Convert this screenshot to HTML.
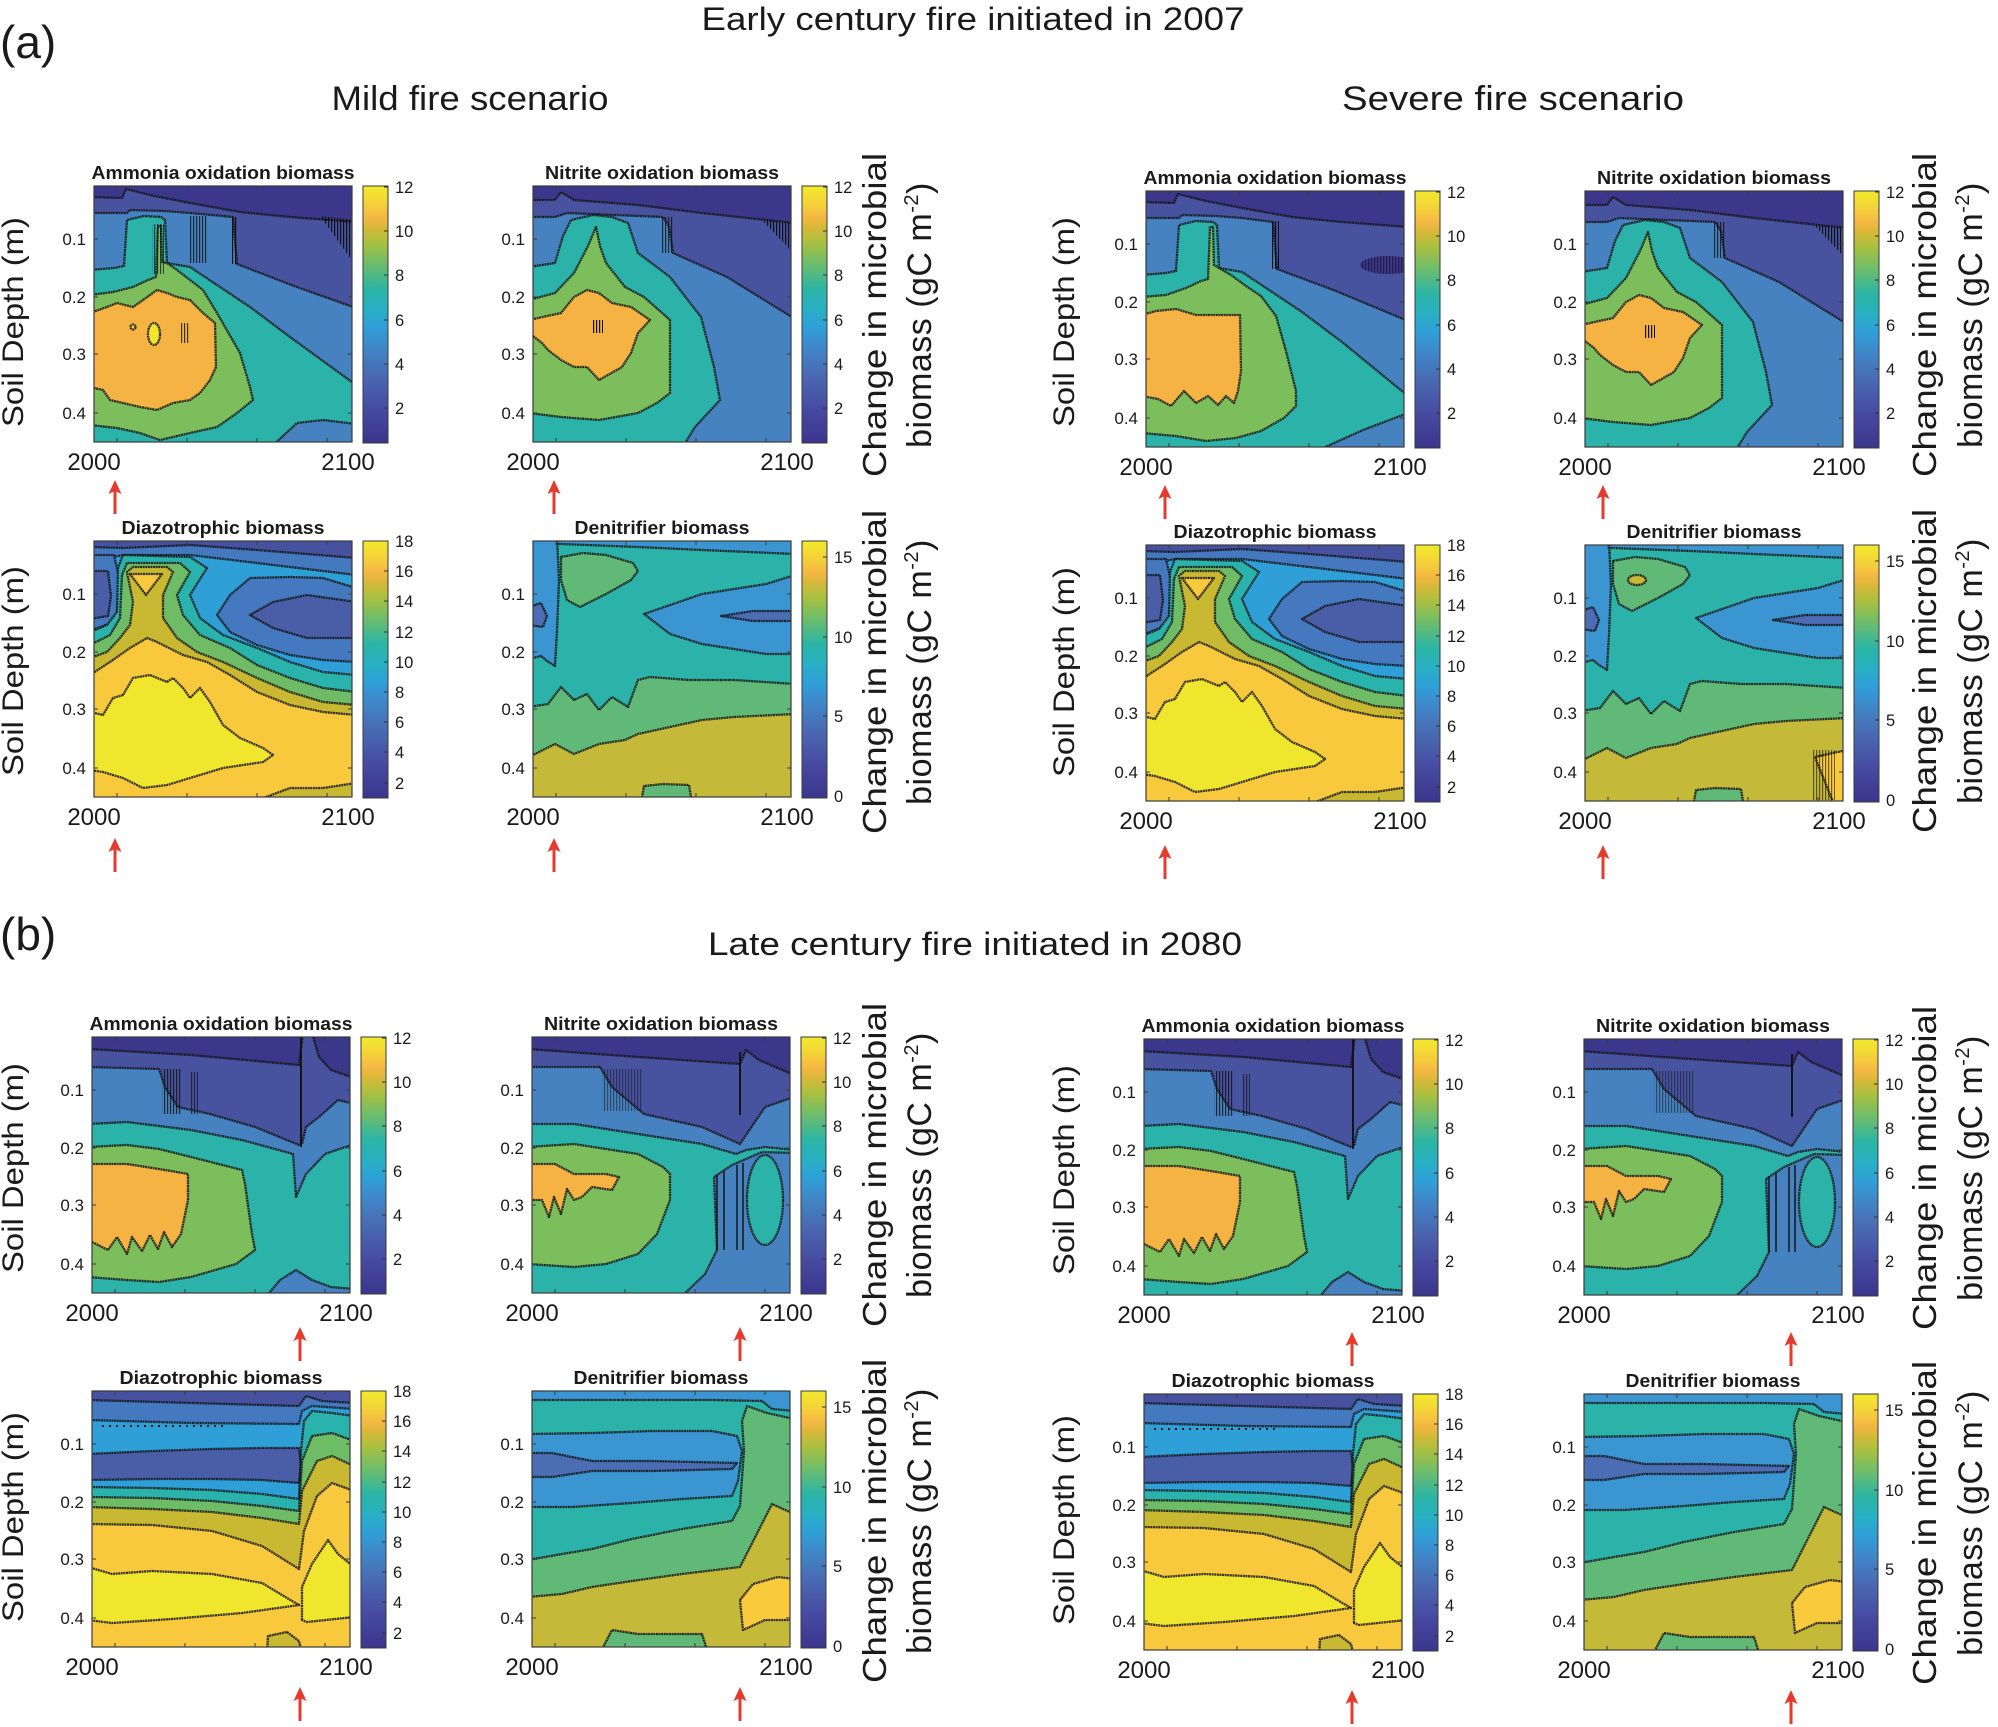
<!DOCTYPE html>
<html><head><meta charset="utf-8"><style>
html,body{margin:0;padding:0;background:#fff}
svg{display:block}
text{font-family:"Liberation Sans",Arial,sans-serif;fill:#1a1a1a}
.r{stroke:#141414;stroke-width:2.3;stroke-linejoin:round;stroke-opacity:.85;stroke-dasharray:2 .6}
</style></head><body>
<svg width="1998" height="1727" viewBox="0 0 1998 1727" xmlns="http://www.w3.org/2000/svg">
<defs>
<linearGradient id="par" x1="0" y1="1" x2="0" y2="0">
<stop offset="0" stop-color="#3a358c"/><stop offset="0.12" stop-color="#4648a0"/><stop offset="0.25" stop-color="#4a66b0"/><stop offset="0.36" stop-color="#4184c6"/><stop offset="0.45" stop-color="#2f9fd8"/><stop offset="0.52" stop-color="#28b0c4"/><stop offset="0.6" stop-color="#2bb5a4"/><stop offset="0.7" stop-color="#6fbd6a"/><stop offset="0.78" stop-color="#a8c040"/><stop offset="0.84" stop-color="#d8b838"/><stop offset="0.88" stop-color="#f6b843"/><stop offset="0.94" stop-color="#f4d538"/><stop offset="1" stop-color="#f2ea2b"/>
</linearGradient>
<pattern id="hv" patternUnits="userSpaceOnUse" width="3" height="6"><rect width="1.2" height="6" fill="#111"/></pattern>
<clipPath id="clip"><rect x="0" y="0" width="258" height="256"/></clipPath>

<g id="axes">
<rect x="0" y="0" width="258" height="256" fill="none" stroke="#3a3a3a" stroke-width="1.2"/>
<path d="M0,53h4M0,111h4M0,168h4M0,227h4M258,53h-4M258,111h-4M258,168h-4M258,227h-4M23,256v-4M93,256v-4M163,256v-4M233,256v-4M23,0v4M93,0v4M163,0v4M233,0v4" stroke="#3a3a3a" stroke-width="1"/>
<g font-size="17" text-anchor="end"><text x="-8" y="59">0.1</text><text x="-8" y="117">0.2</text><text x="-8" y="174">0.3</text><text x="-8" y="233">0.4</text></g>
<g font-size="24" text-anchor="middle"><text x="0" y="284">2000</text><text x="254" y="284">2100</text></g>
</g>

<g id="cb12">
<rect x="269" y="0" width="25" height="257" fill="url(#par)" stroke="#3a3a3a" stroke-width="1"/>
<path d="M294,1h-4M294,45h-4M294,89h-4M294,134h-4M294,178h-4M294,222h-4" stroke="#333"/>
<g font-size="16.5"><text x="301" y="7">12</text><text x="301" y="51">10</text><text x="301" y="95">8</text><text x="301" y="140">6</text><text x="301" y="184">4</text><text x="301" y="228">2</text></g>
</g>
<g id="cb18">
<rect x="269" y="0" width="25" height="257" fill="url(#par)" stroke="#3a3a3a" stroke-width="1"/>
<path d="M294,30h-4M294,60h-4M294,91h-4M294,121h-4M294,151h-4M294,181h-4M294,211h-4M294,242h-4" stroke="#333"/>
<g font-size="16.5"><text x="301" y="6">18</text><text x="301" y="36">16</text><text x="301" y="66">14</text><text x="301" y="97">12</text><text x="301" y="127">10</text><text x="301" y="157">8</text><text x="301" y="187">6</text><text x="301" y="217">4</text><text x="301" y="248">2</text></g>
</g>
<g id="cb15">
<rect x="269" y="0" width="25" height="257" fill="url(#par)" stroke="#3a3a3a" stroke-width="1"/>
<path d="M294,16h-4M294,96h-4M294,175h-4" stroke="#333"/>
<g font-size="16.5"><text x="301" y="22">15</text><text x="301" y="102">10</text><text x="301" y="181">5</text><text x="301" y="261">0</text></g>
</g>

<g id="ar"><line x1="0" y1="10" x2="0" y2="34" stroke="#e63a2e" stroke-width="3"/><polygon points="0,0 -6.5,14 0,11 6.5,14" fill="#e63a2e"/></g>

<!-- Ammonia mild (a) -->
<g id="pA1">
<rect x="-4" y="-4" width="266" height="266" fill="#3b378b"/>
<polygon class="r" fill="#4853a0" points="-4,11 28,12 32,3 60,10 96,17 146,26 196,31 262,36 262,262 -4,262"/>
<polygon fill="url(#hv)" points="226,30 262,34 262,80"/>
<polygon class="r" fill="#4682bf" points="-4,27 33,27 36,24 70,25 96,27 139,31 143,78 200,100 262,122 262,262 -4,262"/>
<rect x="96" y="30" width="17" height="47" fill="url(#hv)" opacity=".8"/>
<rect x="137" y="31" width="6" height="47" fill="url(#hv)"/>
<polygon class="r" fill="#2bb3a9" points="-4,84 20,82 30,80 33,34 50,30 67,31 71,34 73,77 96,81 156,121 196,151 262,199 262,238 229,234 203,237 176,262 -4,262"/>
<polygon class="r" fill="#7cbe5b" points="-4,109 19,106 39,101 54,94 62,91 64,40 67,40 68,76 73,77 83,84 96,94 109,104 123,127 146,167 156,201 159,214 143,227 123,241 96,247 66,254 46,247 23,242 -4,239"/>
<rect x="58" y="38" width="12" height="50" fill="url(#hv)" opacity=".7"/>
<polygon class="r" fill="#f4b342" points="-4,127 13,121 23,117 39,121 49,114 63,104 73,107 83,111 96,114 109,127 121,137 122,181 116,194 106,207 96,214 79,217 63,224 46,221 29,217 16,214 9,204 -4,201"/>
<ellipse class="r" cx="60" cy="148" rx="6" ry="11" fill="#f2e52e"/>
<circle cx="39" cy="141" r="2.5" fill="#f2e52e" class="r"/>
<rect x="86" y="137" width="10" height="20" fill="url(#hv)" opacity=".8"/>
</g>

<!-- Ammonia severe (a) -->
<g id="pA1s">
<rect x="-4" y="-4" width="266" height="266" fill="#3b378b"/>
<polygon class="r" fill="#4853a0" points="-4,11 28,12 32,3 60,10 96,17 146,26 196,31 262,36 262,262 -4,262"/>
<polygon class="r" fill="#4682bf" points="-4,27 33,27 36,24 70,25 96,27 127,31 131,78 190,100 262,130 262,262 -4,262"/>
<rect x="125" y="30" width="8" height="48" fill="url(#hv)"/>
<ellipse cx="242" cy="74" rx="28" ry="9" fill="#3b378b"/>
<ellipse cx="242" cy="74" rx="28" ry="9" fill="url(#hv)" opacity=".6"/>
<polygon class="r" fill="#2bb3a9" points="-4,84 20,82 30,80 33,34 50,30 67,31 71,34 73,77 96,81 156,121 196,151 262,205 262,222 217,239 166,262 -4,262"/>
<polygon class="r" fill="#7cbe5b" points="-4,106 20,104 40,97 55,90 62,88 64,36 67,36 68,74 73,77 85,84 100,95 115,105 130,125 140,160 150,200 150,215 138,227 115,240 90,247 60,250 30,245 -4,242"/>
<polygon class="r" fill="#f4b342" points="-4,124 10,120 30,118 50,124 70,124 94,124 95,180 92,200 88,212 80,205 72,214 62,205 50,212 38,200 25,215 12,208 -4,205"/>
</g>

<!-- Nitrite mild (a) -->
<g id="pA2">
<rect x="-4" y="-4" width="266" height="266" fill="#3b378b"/>
<polygon class="r" fill="#4853a0" points="-4,14 22,14 28,6 41,14 105,19 169,27 233,34 262,37 262,262 -4,262"/>
<polygon fill="url(#hv)" points="229,34 262,37 262,69"/>
<polygon class="r" fill="#4682bf" points="-4,31 22,31 34,27 130,31 136,40 140,67 194,91 262,133 262,262 -4,262"/>
<rect x="128" y="31" width="12" height="36" fill="url(#hv)" opacity=".8"/>
<polygon class="r" fill="#2bb3a9" points="-4,81 22,77 30,50 38,34 60,29 79,31 95,37 105,67 137,91 168,131 181,181 187,214 162,241 149,262 -4,262"/>
<polygon class="r" fill="#7cbe5b" points="-4,114 22,107 41,87 55,60 63,41 67,60 73,77 92,101 111,111 137,134 137,207 124,217 105,227 66,234 28,231 -4,227"/>
<polygon class="r" fill="#f4b342" points="-4,134 28,127 41,111 54,104 66,107 79,117 98,121 117,134 105,147 98,167 89,181 66,194 54,181 41,181 28,174 15,164 9,157 -4,147"/>
<rect x="60" y="134" width="10" height="13" fill="url(#hv)"/>
</g>

<!-- Diazotrophic mild (a) -->
<g id="pA3">
<rect x="-4" y="-4" width="266" height="266" fill="#4652a0"/>
<polygon class="r" fill="#4479bf" points="-4,6 29,7 96,4 163,9 262,17 262,262 -4,262"/>
<polygon class="r" fill="#2f9fd7" points="-4,20 30,14 96,14 163,22 229,30 262,34 262,262 -4,262"/>
<polygon class="r" fill="#4479bf" points="262,47 229,37 196,36 156,37 136,54 123,74 136,91 163,104 196,114 229,119 262,121"/>
<polygon class="r" fill="#4a5ea8" points="262,61 213,54 179,61 156,74 179,87 213,97 262,97"/>
<polygon class="r" fill="#4479bf" points="-4,14 20,14 26,40 22,80 -4,90"/>
<polygon class="r" fill="#4a5ea8" points="-4,30 14,30 17,55 14,75 -4,78"/>
<polygon class="r" fill="#2ab3ac" points="-4,91 13,84 23,71 24,27 29,14 96,16 113,27 96,54 106,77 129,94 163,107 196,121 229,131 262,134 262,262 -4,262"/>
<polygon class="r" fill="#6fbc66" points="-4,104 16,94 26,77 28,34 33,22 86,22 96,31 83,54 89,74 106,94 136,107 163,124 196,137 229,147 262,151 262,262 -4,262"/>
<polygon class="r" fill="#c8b832" points="-4,117 13,111 26,97 36,84 39,61 33,31 39,26 73,26 79,31 69,54 69,77 83,97 103,111 129,121 163,137 196,151 229,161 262,164 262,262 -4,262"/>
<polygon class="r" fill="#f8c83d" points="-4,134 16,121 36,107 53,97 63,101 89,114 113,121 136,134 163,151 196,164 229,171 262,174 262,242 229,247 196,247 156,262 -4,262"/>
<polygon class="r" fill="#f8c83d" points="36,33 68,33 52,54"/>
<polygon class="r" fill="#f1e62e" points="-4,171 9,174 19,157 29,154 39,137 56,134 73,141 79,137 89,147 96,157 106,147 116,161 129,184 146,197 169,207 179,214 169,221 129,227 96,237 73,244 49,247 29,237 9,231 -4,229"/>
</g>

<!-- Denitrifier mild (a) -->
<g id="pA4">
<rect x="-4" y="-4" width="266" height="266" fill="#2cb3a9"/>
<polygon class="r" fill="#3a95d0" points="-4,-4 262,-4 262,13 169,9 105,6 28,3 -4,2"/>
<polygon class="r" fill="#3a95d0" points="-4,-4 24,-4 26,40 24,90 22,125 14,120 8,115 -4,118"/>
<polygon class="r" fill="#4a6db3" points="-4,66 8,62 14,75 10,86 -4,84"/>
<polygon class="r" fill="#60b976" points="28,16 50,12 73,14 100,22 105,30 98,39 73,53 47,66 34,59 28,39"/>
<polygon class="r" fill="#3a95d0" points="262,34 233,43 169,53 111,73 137,93 169,103 233,113 262,113"/>
<polygon class="r" fill="#4a6db3" points="262,70 220,70 188,75 220,80 262,80"/>
<polygon class="r" fill="#60b976" points="-4,166 15,163 28,146 41,159 54,153 66,169 79,156 95,166 105,139 117,136 156,139 201,139 262,143 262,262 -4,262"/>
<polygon class="r" fill="#c5b93a" points="-4,216 22,203 41,213 66,203 92,199 105,193 137,186 169,179 201,176 262,173 262,262 -4,262"/>
<polygon class="r" fill="#60b976" points="108,262 111,245 130,243 156,244 159,262"/>
</g>
<g id="pA4s">
<use href="#pA4"/>
<ellipse class="r" cx="52" cy="35" rx="9" ry="5" fill="#c5b93a"/>
<polygon class="r" fill="#f8ca3c" points="230,212 262,205 262,262 250,262"/>
<rect x="228" y="205" width="22" height="50" fill="url(#hv)" opacity=".6"/>
</g>

<!-- Ammonia (b) -->
<g id="pB1">
<rect x="-4" y="-4" width="266" height="266" fill="#3b378b"/>
<polygon class="r" fill="#4853a0" points="-4,12 99,18 207,28 211,-4 220,-4 222,3 227,20 239,33 262,41 262,262 -4,262"/>
<polygon class="r" fill="#4682bf" points="-4,30 67,32 73,50 86,70 118,77 163,90 207,108 210,107 214,90 227,80 246,63 262,67 262,262 -4,262"/>
<rect x="70" y="32" width="20" height="45" fill="url(#hv)" opacity=".8"/>
<rect x="98" y="35" width="8" height="42" fill="url(#hv)" opacity=".7"/>
<line x1="209" y1="-2" x2="209" y2="110" stroke="#141414" stroke-width="2"/>
<polygon class="r" fill="#2bb3a9" points="-4,87 35,85 99,93 150,103 201,117 204,160 214,137 233,117 262,107 262,252 239,250 220,243 204,233 188,243 172,262 -4,262"/>
<polygon class="r" fill="#7cbe5b" points="-4,110 35,108 67,112 99,120 150,133 153,147 160,197 163,213 144,227 99,240 67,245 35,243 -4,240"/>
<polygon class="r" fill="#f4b342" points="-4,127 35,127 73,133 96,137 96,163 89,197 80,210 72,195 66,212 58,198 50,214 40,200 35,217 25,200 16,213 -4,203"/>
</g>

<!-- Nitrite (b) -->
<g id="pB2">
<rect x="-4" y="-4" width="266" height="266" fill="#3b378b"/>
<polygon class="r" fill="#4853a0" points="-4,12 106,20 208,27 214,13 227,23 262,38 262,262 -4,262"/>
<polygon class="r" fill="#4682bf" points="-4,30 68,30 80,50 112,77 170,90 208,107 233,70 262,60 262,262 -4,262"/>
<rect x="70" y="32" width="40" height="42" fill="url(#hv)" opacity=".5"/>
<line x1="208" y1="15" x2="208" y2="78" stroke="#141414" stroke-width="2"/>
<polygon class="r" fill="#2bb3a9" points="-4,87 42,87 106,97 170,107 204,117 214,113 233,110 262,113 262,262 -4,262"/>
<polygon class="r" fill="#4682bf" points="182,140 200,128 230,115 262,116 262,262 147,262 173,237 185,213"/>
<ellipse class="r" cx="233" cy="163" rx="18" ry="45" fill="#2bb3a9"/>
<path d="M185,137V213M192,133V213M205,128V213M211,126V213" stroke="#141414" stroke-width="1.5"/>
<polygon class="r" fill="#7cbe5b" points="-4,110 42,107 106,117 131,130 138,137 138,163 125,197 106,217 74,227 42,230 -4,227"/>
<polygon class="r" fill="#f4b342" points="-4,127 23,127 42,137 74,137 87,140 80,153 60,150 50,160 42,163 35,152 29,177 22,160 17,180 10,163 -4,163"/>
</g>

<!-- Diazotrophic (b) -->
<g id="pB3">
<rect x="-4" y="-4" width="266" height="266" fill="#4652a0"/>
<polygon class="r" fill="#4479bf" points="-4,9 100,12 207,15 214,5 230,10 262,12 262,262 -4,262"/>
<polygon class="r" fill="#2f9fd7" points="-4,29 100,32 207,33 210,20 220,15 262,18 262,262 -4,262"/>
<polygon class="r" fill="#4a5ea8" points="-4,63 60,60 120,58 170,57 207,57 209,75 207,92 170,89 120,88 60,88 -4,89"/>
<line x1="10" y1="35" x2="135" y2="35" stroke="#141414" stroke-width="2" stroke-dasharray="2 5"/>
<polygon class="r" fill="#2ab3ac" points="-4,96 60,97 120,99 170,103 207,108 209,60 212,30 220,20 240,22 262,25 262,262 -4,262"/>
<polygon class="r" fill="#6fbc66" points="-4,106 60,107 120,110 170,115 207,120 210,70 220,45 240,42 262,50 262,262 -4,262"/>
<polygon class="r" fill="#c8b832" points="-4,116 60,118 120,121 170,127 207,133 210,100 225,70 240,65 262,75 262,262 -4,262"/>
<polygon class="r" fill="#f8c83d" points="-4,133 60,134 120,140 170,155 207,178 212,140 225,105 240,92 262,100 262,262 -4,262"/>
<polygon class="r" fill="#f1e62e" points="-4,176 20,183 60,180 120,183 170,192 200,210 207,214 150,222 80,228 20,232 -4,229"/>
<polygon class="r" fill="#f1e62e" points="210,229 210,196 220,173 236,149 246,163 262,176 262,226 215,231"/>
<polygon class="r" fill="#c8b832" points="175,262 176,245 195,241 207,250 210,262"/>
</g>

<!-- Denitrifier (b) -->
<g id="pB4">
<rect x="-4" y="-4" width="266" height="266" fill="#2cb3a9"/>
<polygon class="r" fill="#3a95d0" points="-4,-4 262,-4 262,20 240,18 230,10 180,9 100,9 -4,9"/>
<polygon class="r" fill="#3a95d0" points="-4,43 60,42 120,40 180,40 205,45 210,60 206,90 200,105 150,108 100,112 40,116 -4,116"/>
<polygon class="r" fill="#4a6db3" points="-4,62 20,62 60,70 120,70 205,72 200,78 120,80 60,80 20,86 -4,86"/>
<polygon class="r" fill="#60b976" points="-4,169 30,163 60,158 100,148 150,138 200,130 208,115 212,60 210,30 215,15 235,22 262,28 262,262 -4,262"/>
<polygon class="r" fill="#c5b93a" points="-4,206 30,203 60,196 100,190 150,183 200,177 208,176 240,113 262,123 262,262 -4,262"/>
<polygon class="r" fill="#f8ca3c" points="208,209 221,193 246,186 262,188 262,229 233,229 211,239"/>
<polygon class="r" fill="#60b976" points="68,262 80,239 106,243 170,243 176,262"/>
</g>
</defs>

<!-- Headings -->
<text x="0" y="58" font-size="46">(a)</text>
<text x="973" y="30" font-size="32" text-anchor="middle" textLength="543" lengthAdjust="spacingAndGlyphs">Early century fire initiated in 2007</text>
<text x="470" y="110" font-size="34" text-anchor="middle" textLength="277" lengthAdjust="spacingAndGlyphs">Mild fire scenario</text>
<text x="1513" y="110" font-size="34" text-anchor="middle" textLength="342" lengthAdjust="spacingAndGlyphs">Severe fire scenario</text>
<text x="0" y="950" font-size="46">(b)</text>
<text x="975" y="955" font-size="32" text-anchor="middle" textLength="534" lengthAdjust="spacingAndGlyphs">Late century fire initiated in 2080</text>

<!-- (a) row 1 -->
<g transform="translate(94,186)"><g clip-path="url(#clip)"><use href="#pA1"/></g><use href="#axes"/><use href="#cb12"/><text x="129" y="-7" font-size="18" font-weight="bold" text-anchor="middle" textLength="263" lengthAdjust="spacingAndGlyphs">Ammonia oxidation biomass</text></g>
<g transform="translate(533,186)"><g clip-path="url(#clip)"><use href="#pA2"/></g><use href="#axes"/><use href="#cb12"/><text x="129" y="-7" font-size="18" font-weight="bold" text-anchor="middle" textLength="234" lengthAdjust="spacingAndGlyphs">Nitrite oxidation biomass</text></g>
<g transform="translate(1146,191)"><g clip-path="url(#clip)"><use href="#pA1s"/></g><use href="#axes"/><use href="#cb12"/><text x="129" y="-7" font-size="18" font-weight="bold" text-anchor="middle" textLength="263" lengthAdjust="spacingAndGlyphs">Ammonia oxidation biomass</text></g>
<g transform="translate(1585,191)"><g clip-path="url(#clip)"><use href="#pA2"/></g><use href="#axes"/><use href="#cb12"/><text x="129" y="-7" font-size="18" font-weight="bold" text-anchor="middle" textLength="234" lengthAdjust="spacingAndGlyphs">Nitrite oxidation biomass</text></g>

<!-- (a) row 2 -->
<g transform="translate(94,541)"><g clip-path="url(#clip)"><use href="#pA3"/></g><use href="#axes"/><use href="#cb18"/><text x="129" y="-7" font-size="18" font-weight="bold" text-anchor="middle" textLength="203" lengthAdjust="spacingAndGlyphs">Diazotrophic biomass</text></g>
<g transform="translate(533,541)"><g clip-path="url(#clip)"><use href="#pA4"/></g><use href="#axes"/><use href="#cb15"/><text x="129" y="-7" font-size="18" font-weight="bold" text-anchor="middle" textLength="175" lengthAdjust="spacingAndGlyphs">Denitrifier biomass</text></g>
<g transform="translate(1146,545)"><g clip-path="url(#clip)"><use href="#pA3"/></g><use href="#axes"/><use href="#cb18"/><text x="129" y="-7" font-size="18" font-weight="bold" text-anchor="middle" textLength="203" lengthAdjust="spacingAndGlyphs">Diazotrophic biomass</text></g>
<g transform="translate(1585,545)"><g clip-path="url(#clip)"><use href="#pA4s"/></g><use href="#axes"/><use href="#cb15"/><text x="129" y="-7" font-size="18" font-weight="bold" text-anchor="middle" textLength="175" lengthAdjust="spacingAndGlyphs">Denitrifier biomass</text></g>

<!-- (b) row 1 -->
<g transform="translate(92,1037)"><g clip-path="url(#clip)"><use href="#pB1"/></g><use href="#axes"/><use href="#cb12"/><text x="129" y="-7" font-size="18" font-weight="bold" text-anchor="middle" textLength="263" lengthAdjust="spacingAndGlyphs">Ammonia oxidation biomass</text></g>
<g transform="translate(532,1037)"><g clip-path="url(#clip)"><use href="#pB2"/></g><use href="#axes"/><use href="#cb12"/><text x="129" y="-7" font-size="18" font-weight="bold" text-anchor="middle" textLength="234" lengthAdjust="spacingAndGlyphs">Nitrite oxidation biomass</text></g>
<g transform="translate(1144,1039)"><g clip-path="url(#clip)"><use href="#pB1"/></g><use href="#axes"/><use href="#cb12"/><text x="129" y="-7" font-size="18" font-weight="bold" text-anchor="middle" textLength="263" lengthAdjust="spacingAndGlyphs">Ammonia oxidation biomass</text></g>
<g transform="translate(1584,1039)"><g clip-path="url(#clip)"><use href="#pB2"/></g><use href="#axes"/><use href="#cb12"/><text x="129" y="-7" font-size="18" font-weight="bold" text-anchor="middle" textLength="234" lengthAdjust="spacingAndGlyphs">Nitrite oxidation biomass</text></g>

<!-- (b) row 2 -->
<g transform="translate(92,1391)"><g clip-path="url(#clip)"><use href="#pB3"/></g><use href="#axes"/><use href="#cb18"/><text x="129" y="-7" font-size="18" font-weight="bold" text-anchor="middle" textLength="203" lengthAdjust="spacingAndGlyphs">Diazotrophic biomass</text></g>
<g transform="translate(532,1391)"><g clip-path="url(#clip)"><use href="#pB4"/></g><use href="#axes"/><use href="#cb15"/><text x="129" y="-7" font-size="18" font-weight="bold" text-anchor="middle" textLength="175" lengthAdjust="spacingAndGlyphs">Denitrifier biomass</text></g>
<g transform="translate(1144,1394)"><g clip-path="url(#clip)"><use href="#pB3"/></g><use href="#axes"/><use href="#cb18"/><text x="129" y="-7" font-size="18" font-weight="bold" text-anchor="middle" textLength="203" lengthAdjust="spacingAndGlyphs">Diazotrophic biomass</text></g>
<g transform="translate(1584,1394)"><g clip-path="url(#clip)"><use href="#pB4"/></g><use href="#axes"/><use href="#cb15"/><text x="129" y="-7" font-size="18" font-weight="bold" text-anchor="middle" textLength="175" lengthAdjust="spacingAndGlyphs">Denitrifier biomass</text></g>

<!-- Soil depth labels -->
<g font-size="30" text-anchor="middle">
<text transform="translate(23,322) rotate(-90)" textLength="210" lengthAdjust="spacingAndGlyphs">Soil Depth (m)</text>
<text transform="translate(23,671) rotate(-90)" textLength="210" lengthAdjust="spacingAndGlyphs">Soil Depth (m)</text>
<text transform="translate(23,1168) rotate(-90)" textLength="210" lengthAdjust="spacingAndGlyphs">Soil Depth (m)</text>
<text transform="translate(23,1517) rotate(-90)" textLength="210" lengthAdjust="spacingAndGlyphs">Soil Depth (m)</text>
<text transform="translate(1074,322) rotate(-90)" textLength="210" lengthAdjust="spacingAndGlyphs">Soil Depth (m)</text>
<text transform="translate(1074,672) rotate(-90)" textLength="210" lengthAdjust="spacingAndGlyphs">Soil Depth (m)</text>
<text transform="translate(1074,1170) rotate(-90)" textLength="210" lengthAdjust="spacingAndGlyphs">Soil Depth (m)</text>
<text transform="translate(1074,1520) rotate(-90)" textLength="210" lengthAdjust="spacingAndGlyphs">Soil Depth (m)</text>
</g>

<!-- Colorbar labels -->
<g text-anchor="middle">
<text transform="translate(886,315) rotate(-90)" font-size="33" textLength="324" lengthAdjust="spacingAndGlyphs">Change in microbial</text>
<text transform="translate(931,315) rotate(-90)" font-size="34" letter-spacing="0.5">biomass (gC m<tspan font-size="20" dy="-13">-2</tspan><tspan dy="13">)</tspan></text>
<text transform="translate(886,672) rotate(-90)" font-size="33" textLength="324" lengthAdjust="spacingAndGlyphs">Change in microbial</text>
<text transform="translate(931,672) rotate(-90)" font-size="34" letter-spacing="0.5">biomass (gC m<tspan font-size="20" dy="-13">-2</tspan><tspan dy="13">)</tspan></text>
<text transform="translate(886,1165) rotate(-90)" font-size="33" textLength="324" lengthAdjust="spacingAndGlyphs">Change in microbial</text>
<text transform="translate(931,1165) rotate(-90)" font-size="34" letter-spacing="0.5">biomass (gC m<tspan font-size="20" dy="-13">-2</tspan><tspan dy="13">)</tspan></text>
<text transform="translate(886,1521) rotate(-90)" font-size="33" textLength="324" lengthAdjust="spacingAndGlyphs">Change in microbial</text>
<text transform="translate(931,1521) rotate(-90)" font-size="34" letter-spacing="0.5">biomass (gC m<tspan font-size="20" dy="-13">-2</tspan><tspan dy="13">)</tspan></text>
<text transform="translate(1936,315) rotate(-90)" font-size="33" textLength="324" lengthAdjust="spacingAndGlyphs">Change in microbial</text>
<text transform="translate(1982,315) rotate(-90)" font-size="34" letter-spacing="0.5">biomass (gC m<tspan font-size="20" dy="-13">-2</tspan><tspan dy="13">)</tspan></text>
<text transform="translate(1936,671) rotate(-90)" font-size="33" textLength="324" lengthAdjust="spacingAndGlyphs">Change in microbial</text>
<text transform="translate(1982,671) rotate(-90)" font-size="34" letter-spacing="0.5">biomass (gC m<tspan font-size="20" dy="-13">-2</tspan><tspan dy="13">)</tspan></text>
<text transform="translate(1936,1168) rotate(-90)" font-size="33" textLength="324" lengthAdjust="spacingAndGlyphs">Change in microbial</text>
<text transform="translate(1982,1168) rotate(-90)" font-size="34" letter-spacing="0.5">biomass (gC m<tspan font-size="20" dy="-13">-2</tspan><tspan dy="13">)</tspan></text>
<text transform="translate(1936,1523) rotate(-90)" font-size="33" textLength="324" lengthAdjust="spacingAndGlyphs">Change in microbial</text>
<text transform="translate(1982,1523) rotate(-90)" font-size="34" letter-spacing="0.5">biomass (gC m<tspan font-size="20" dy="-13">-2</tspan><tspan dy="13">)</tspan></text>
</g>

<!-- Arrows -->
<use href="#ar" transform="translate(115,480)"/>
<use href="#ar" transform="translate(554,480)"/>
<use href="#ar" transform="translate(1165,485)"/>
<use href="#ar" transform="translate(1603,485)"/>
<use href="#ar" transform="translate(115,838)"/>
<use href="#ar" transform="translate(554,838)"/>
<use href="#ar" transform="translate(1165,845)"/>
<use href="#ar" transform="translate(1603,845)"/>
<use href="#ar" transform="translate(300,1327)"/>
<use href="#ar" transform="translate(740,1327)"/>
<use href="#ar" transform="translate(1352,1332)"/>
<use href="#ar" transform="translate(1791,1332)"/>
<use href="#ar" transform="translate(300,1687)"/>
<use href="#ar" transform="translate(740,1687)"/>
<use href="#ar" transform="translate(1352,1690)"/>
<use href="#ar" transform="translate(1791,1690)"/>
</svg>
</body></html>
